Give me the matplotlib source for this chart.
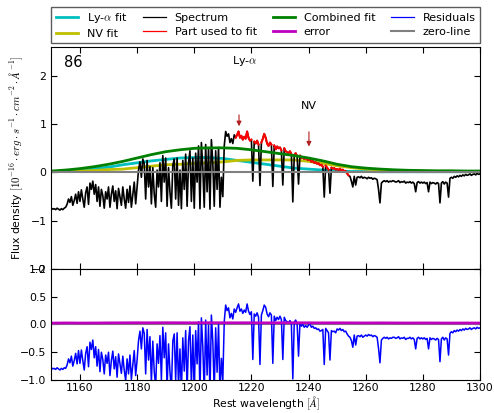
import numpy as np
import matplotlib
matplotlib.use("Agg")
import matplotlib.pyplot as plt

plt.rcParams['font.family'] = 'DejaVu Sans'
plt.rcParams['mathtext.fontset'] = 'cm'
plt.rcParams['xtick.direction'] = 'in'
plt.rcParams['ytick.direction'] = 'in'
plt.rcParams['xtick.top'] = True
plt.rcParams['ytick.right'] = True
plt.rcParams['xtick.major.size'] = 4
plt.rcParams['ytick.major.size'] = 4
plt.rcParams['xtick.major.pad'] = 2.5
plt.rcParams['xtick.labelsize'] = 7.8
plt.rcParams['ytick.labelsize'] = 7.8

# Spectrum sampled every 0.5 A from 1150 to 1300 A (flux in 1e-16 erg/s/cm2/A)
wave = np.arange(1150.0, 1300.01, 0.5)
flux = np.array([
    -0.74, -0.76, -0.75, -0.77, -0.74, -0.76, -0.78, -0.75, -0.77, -0.74,
    -0.72, -0.66, -0.55, -0.62, -0.50, -0.68, -0.58, -0.45, -0.64, -0.40,
    -0.60, -0.36, -0.55, -0.72, -0.42, -0.30, -0.66, -0.22, -0.35, -0.18,
    -0.45, -0.25, -0.60, -0.30, -0.70, -0.35, -0.48, -0.74, -0.40, -0.55,
    -0.30, -0.72, -0.45, -0.28, -0.60, -0.38, -0.75, -0.33, -0.50, -0.68,
    -0.30, -0.55, -0.74, -0.35, -0.62, -0.28, -0.72, -0.45, -0.20, -0.65,
    -0.30, 0.05, 0.22, -0.10, 0.28, 0.18, -0.55, 0.25, -0.30, 0.12,
    -0.65, 0.10, -0.45, -0.72, 0.05, -0.30, 0.20, -0.60, 0.35, -0.20,
    0.30, -0.70, 0.10, -0.40, -0.74, 0.15, 0.28, -0.55, 0.30, -0.68,
    0.05, -0.75, 0.25, -0.35, 0.38, -0.70, 0.20, 0.45, -0.60, 0.30,
    -0.74, 0.40, -0.20, 0.55, -0.75, 0.62, 0.10, -0.72, 0.58, -0.40,
    0.50, -0.76, 0.68, 0.20, -0.70, 0.45, -0.35, 0.52, -0.72, -0.10,
    -0.50, 0.55, 0.85, 0.75, 0.80, 0.62, 0.70, 0.60, 0.78, 0.72,
    0.78, 0.85, 0.72, 0.76, 0.68, 0.74, 0.70, 0.85, 0.72, 0.66,
    0.68, -0.18, 0.64, 0.60, 0.66, 0.58, -0.27, 0.62, 0.70, 0.80,
    0.72, 0.60, 0.55, 0.62, 0.58, -0.29, 0.56, 0.48, 0.54, 0.50,
    0.52, 0.46, -0.26, 0.50, 0.44, 0.42, 0.40, 0.44, 0.38, -0.61,
    0.36, 0.40, 0.34, -0.24, 0.35, 0.30, 0.32, 0.28, 0.30, 0.27,
    0.26, 0.28, 0.22, 0.24, 0.20, 0.21, 0.18, 0.19, 0.15, 0.16,
    0.12, -0.51, 0.14, 0.10, 0.06, -0.43, 0.10, 0.08, 0.09, 0.06,
    0.07, 0.05, 0.08, 0.04, 0.06, 0.02, 0.03, -0.02, -0.06, -0.08,
    -0.18, -0.30, -0.08, -0.26, -0.10, -0.09, -0.11, -0.08, -0.12, -0.10,
    -0.11, -0.13, -0.10, -0.12, -0.11, -0.14, -0.12, -0.13, -0.15, -0.35,
    -0.63, -0.22, -0.19, -0.17, -0.19, -0.17, -0.20, -0.18, -0.19, -0.17,
    -0.18, -0.20, -0.19, -0.17, -0.21, -0.19, -0.20, -0.18, -0.22, -0.20,
    -0.21, -0.19, -0.22, -0.20, -0.23, -0.40, -0.21, -0.19, -0.22, -0.20,
    -0.22, -0.20, -0.23, -0.21, -0.40, -0.20, -0.23, -0.21, -0.22, -0.24,
    -0.21, -0.23, -0.63, -0.22, -0.19, -0.24, -0.20, -0.22, -0.51, -0.12,
    -0.10, -0.12, -0.08, -0.10, -0.07, -0.09, -0.06, -0.08, -0.05, -0.07,
    -0.04, -0.06, -0.05, -0.03, -0.06, -0.04, -0.03, -0.05, -0.02, -0.04,
    -0.03,
])

# Spectrum minus combined fit, same sampling
residuals = np.array([
    -0.78, -0.80, -0.79, -0.81, -0.78, -0.80, -0.82, -0.79, -0.81, -0.78,
    -0.79, -0.73, -0.62, -0.69, -0.57, -0.75, -0.65, -0.52, -0.71, -0.47,
    -0.70, -0.46, -0.65, -0.82, -0.52, -0.40, -0.76, -0.32, -0.45, -0.28,
    -0.60, -0.40, -0.75, -0.45, -0.85, -0.50, -0.63, -0.89, -0.55, -0.70,
    -0.50, -0.92, -0.65, -0.48, -0.80, -0.58, -0.95, -0.53, -0.70, -0.88,
    -0.57, -0.82, -1.01, -0.62, -0.89, -0.55, -0.99, -0.72, -0.47, -0.92,
    -0.64, -0.29, -0.12, -0.44, -0.06, -0.16, -0.89, -0.09, -0.64, -0.22,
    -1.05, -0.30, -0.85, -1.12, -0.35, -0.70, -0.20, -1.00, -0.05, -0.60,
    -0.15, -1.15, -0.35, -0.85, -1.19, -0.30, -0.17, -1.00, -0.15, -1.13,
    -0.44, -1.24, -0.24, -0.84, -0.11, -1.19, -0.29, -0.04, -1.09, -0.19,
    -1.25, -0.11, -0.71, 0.05, -1.26, 0.12, -0.41, -1.23, 0.08, -0.91,
    -0.01, -1.27, 0.17, -0.31, -1.21, -0.06, -0.86, 0.01, -1.23, -0.61,
    -1.01, 0.05, 0.35, 0.25, 0.30, 0.12, 0.20, 0.10, 0.28, 0.22,
    0.30, 0.37, 0.24, 0.28, 0.20, 0.26, 0.22, 0.37, 0.24, 0.18,
    0.23, -0.63, 0.19, 0.15, 0.21, 0.13, -0.72, 0.17, 0.25, 0.35,
    0.31, 0.19, 0.14, 0.21, 0.17, -0.70, 0.15, 0.07, 0.13, 0.09,
    0.15, 0.09, -0.63, 0.13, 0.07, 0.05, 0.03, 0.07, 0.01, -0.98,
    0.04, 0.08, 0.02, -0.57, 0.03, -0.03, 0.00, -0.05, -0.02, -0.05,
    -0.01, 0.01, -0.05, -0.03, -0.07, -0.06, -0.09, -0.08, -0.12, -0.11,
    -0.09, -0.72, -0.07, -0.11, -0.15, -0.64, -0.11, -0.13, -0.12, -0.15,
    -0.08, -0.10, -0.07, -0.11, -0.09, -0.13, -0.12, -0.17, -0.21, -0.23,
    -0.29, -0.41, -0.19, -0.37, -0.21, -0.20, -0.22, -0.19, -0.23, -0.21,
    -0.19, -0.21, -0.18, -0.20, -0.19, -0.22, -0.20, -0.21, -0.23, -0.43,
    -0.69, -0.28, -0.25, -0.23, -0.25, -0.23, -0.26, -0.24, -0.25, -0.23,
    -0.23, -0.25, -0.24, -0.22, -0.26, -0.24, -0.25, -0.23, -0.27, -0.25,
    -0.25, -0.23, -0.26, -0.24, -0.27, -0.44, -0.25, -0.23, -0.26, -0.24,
    -0.26, -0.24, -0.27, -0.25, -0.44, -0.24, -0.27, -0.25, -0.26, -0.28,
    -0.25, -0.27, -0.67, -0.26, -0.23, -0.28, -0.24, -0.26, -0.55, -0.16,
    -0.13, -0.15, -0.11, -0.13, -0.10, -0.12, -0.09, -0.11, -0.08, -0.10,
    -0.07, -0.09, -0.08, -0.06, -0.09, -0.07, -0.06, -0.08, -0.05, -0.07,
    -0.06,
])

# Fitted emission components, every 5 A
fit_wave = np.arange(1150, 1301, 5)
lya_fit = np.array([
    0.015, 0.03, 0.05, 0.08, 0.11, 0.16, 0.20, 0.24, 0.27, 0.30, 0.31,
    0.31, 0.29, 0.25, 0.21, 0.17, 0.13, 0.09, 0.07, 0.05, 0.03, 0.02,
    0.02, 0.015, 0.015, 0.015, 0.015, 0.015, 0.015, 0.015, 0.015,
])
nv_fit = np.array([
    0.015, 0.02, 0.03, 0.04, 0.06, 0.07, 0.10, 0.13, 0.16, 0.17, 0.19,
    0.20, 0.22, 0.25, 0.26, 0.26, 0.26, 0.26, 0.23, 0.19, 0.14, 0.10,
    0.07, 0.055, 0.04, 0.03, 0.025, 0.02, 0.02, 0.015, 0.015,
])
error = np.array([
    0.025, 0.028, 0.026, 0.027, 0.029, 0.030, 0.031, 0.030, 0.032, 0.031,
    0.030, 0.032, 0.031, 0.030, 0.031, 0.029, 0.030, 0.031, 0.030, 0.029,
    0.030, 0.029, 0.028, 0.029, 0.028, 0.027, 0.028, 0.027, 0.026, 0.027,
    0.026,
])
combined_fit = lya_fit + nv_fit

# Region used in the fit, with absorption lines left out
fit_range = (1214.5, 1254.0)
masked_lines = [1220.5, 1223.0, 1227.5, 1231.0, 1234.5, 1236.5, 1245.5,
                1247.5]

lya_center = 1215.67
nv_center = 1240.14
object_id = '86'

in_fit = (wave >= fit_range[0]) & (wave <= fit_range[1])
for line in masked_lines:
    in_fit &= np.abs(wave - line) > 0.3
fit_part = np.where(in_fit, flux, np.nan)

fig = plt.figure(figsize=(4.94, 4.13), dpi=100)
ax = fig.add_axes([0.104, 0.3487, 0.8676, 0.5375])
ax_res = fig.add_axes([0.104, 0.0799, 0.8676, 0.2688], sharex=ax)

ax.plot(fit_wave, lya_fit, color='c', lw=2, label=r'Ly-$\alpha$ fit')
ax.plot(fit_wave, nv_fit, color='y', lw=2, label='NV fit')
ax.plot(wave, flux, color='k', lw=1.2, label='Spectrum')
ax.plot(wave, fit_part, color='r', lw=1.5, label='Part used to fit')
ax.plot(fit_wave, combined_fit, color='g', lw=2, label='Combined fit')
ax.plot([], [], color='m', lw=2, label='error')
ax.plot([], [], color='b', lw=1, label='Residuals')
ax.axhline(0, color='gray', lw=1.5, label='zero-line')

arrow_kw = dict(arrowstyle='-|>', color='#b02020', lw=0.8, mutation_scale=7)
ax.annotate('', xy=(lya_center, 0.90), xytext=(lya_center, 1.25),
            arrowprops=arrow_kw)
ax.annotate('', xy=(nv_center, 0.48), xytext=(nv_center, 0.90),
            arrowprops=arrow_kw)
ax.text(lya_center + 2, 2.32, r'Ly-$\alpha$', ha='center', va='center',
        fontsize=8)
ax.text(nv_center, 1.38, 'NV', ha='center', va='center', fontsize=8)
ax.text(0.03, 0.965, object_id, transform=ax.transAxes, ha='left',
        va='top', fontsize=10.5)

ax.set_xlim(1150, 1300)
ax.set_ylim(-2, 2.6)
ax.set_yticks([-2, -1, 0, 1, 2])
ax.set_xticks(np.arange(1160, 1301, 20))
ax.tick_params(labelbottom=False)
ax.set_ylabel(r'Flux density $[10^{-16}\cdot erg\cdot s^{-1}\cdot cm^{-2}'
              r'\cdot \AA^{-1}]$', fontsize=7.8)

ax_res.axhline(0, color='gray', lw=1.5)
ax_res.plot(wave, residuals, color='b', lw=1.1)
ax_res.plot(fit_wave, error, color='m', lw=2)
ax_res.set_ylim(-1, 1)
ax_res.set_yticks([-1.0, -0.5, 0.0, 0.5, 1.0])
ax_res.set_xlabel(r'Rest wavelength $[\AA]$', fontsize=7.8, labelpad=0.5)

leg = ax.legend(loc='lower left', bbox_to_anchor=(0, 1.018, 1, 0.15),
                ncol=4, mode='expand', borderaxespad=0, fontsize=8,
                fancybox=False, edgecolor='#333333', handlelength=2,
                labelspacing=0.3)
# thin samples for the spectrum-type lines
for handle in leg.get_lines():
    if handle.get_label() in ('Spectrum', 'Part used to fit', 'Residuals'):
        handle.set_linewidth(0.9)

fig.savefig('out.png', dpi=100)
